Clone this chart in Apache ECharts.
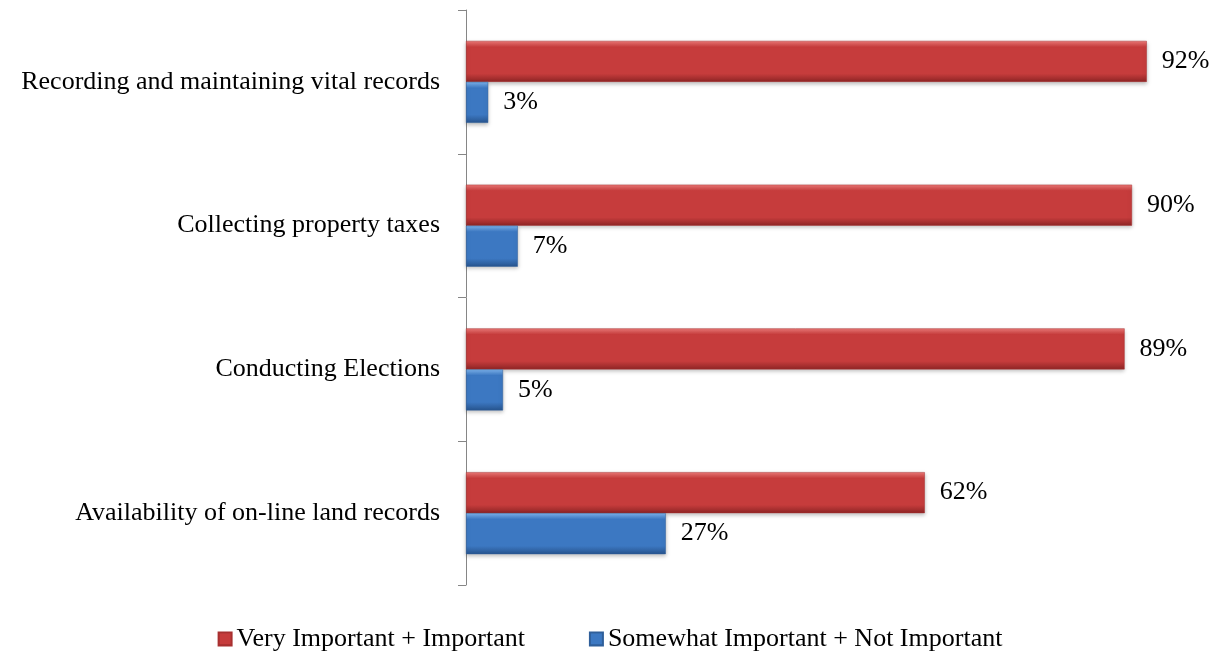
<!DOCTYPE html>
<html>
<head>
<meta charset="utf-8">
<script src="https://cdn.jsdelivr.net/npm/echarts@6/dist/echarts.min.js"></script>
<style>
	html, body { margin: 0; padding: 0; background: #fff; }
	#main { width: 1220px; height: 651px; }
</style>
</head>
<body>
<div id="main"></div>
<script>
	// categories top to bottom
	var categories = [
		'Recording and maintaining vital records',
		'Collecting property taxes',
		'Conducting Elections',
		'Availability of on-line land records'
	];
	var seriesNames = ['Very Important + Important', 'Somewhat Important + Not Important'];
	var importantVals = [92, 90, 89, 62];
	var notImportantVals = [3, 7, 5, 27];

	var serif = '"Liberation Serif", "DejaVu Serif", serif';

	function grad(top, mid, bottom) {
		return new echarts.graphic.LinearGradient(0, 0, 0, 1, [
			{ offset: 0, color: top },
			{ offset: 0.15, color: mid },
			{ offset: 0.8, color: mid },
			{ offset: 1, color: bottom }
		]);
	}

	var chart = echarts.init(document.getElementById('main'));
	var option = {
		animation: false,
		grid: {
			left: 466,
			right: 14,
			top: 10,
			bottom: 66
		},
		legend: {
			top: 621,
			left: 'center',
			itemWidth: 13,
			itemHeight: 13,
			itemGap: 64,
			icon: 'rect',
			textStyle: { fontFamily: serif, fontSize: 26, color: '#000' },
			data: seriesNames
		},
		xAxis: {
			type: 'value',
			min: 0,
			max: 100,
			show: false
		},
		yAxis: {
			type: 'category',
			inverse: true,
			data: categories,
			axisLine: { show: true, lineStyle: { color: '#868686', width: 1 } },
			axisTick: { show: true, length: 8, lineStyle: { color: '#868686' } },
			axisLabel: {
				margin: 26,
				fontFamily: serif,
				fontSize: 26,
				color: '#000'
			}
		},
		series: [
			{
				name: seriesNames[0],
				type: 'bar',
				data: importantVals,
				barWidth: 41,
				barGap: '0%',
				itemStyle: {
					color: grad('#ee7a78', '#c63c3c', '#8e2525'),
					borderColor: '#a83030',
					borderWidth: 0.5,
					shadowColor: 'rgba(0,0,0,0.25)',
					shadowBlur: 4,
					shadowOffsetY: 2
				},
				label: {
					show: true,
					position: 'right',
					distance: 15,
					formatter: '{c}%',
					fontFamily: serif,
					fontSize: 26,
					color: '#000'
				}
			},
			{
				name: seriesNames[1],
				type: 'bar',
				data: notImportantVals,
				barWidth: 41,
				barGap: '0%',
				itemStyle: {
					color: grad('#7db4ee', '#3c78c2', '#27548e'),
					borderColor: '#2f5f9a',
					borderWidth: 0.5,
					shadowColor: 'rgba(0,0,0,0.25)',
					shadowBlur: 4,
					shadowOffsetY: 2
				},
				label: {
					show: true,
					position: 'right',
					distance: 15,
					formatter: '{c}%',
					fontFamily: serif,
					fontSize: 26,
					color: '#000'
				}
			}
		]
	};
	chart.setOption(option);
</script>
</body>
</html>
